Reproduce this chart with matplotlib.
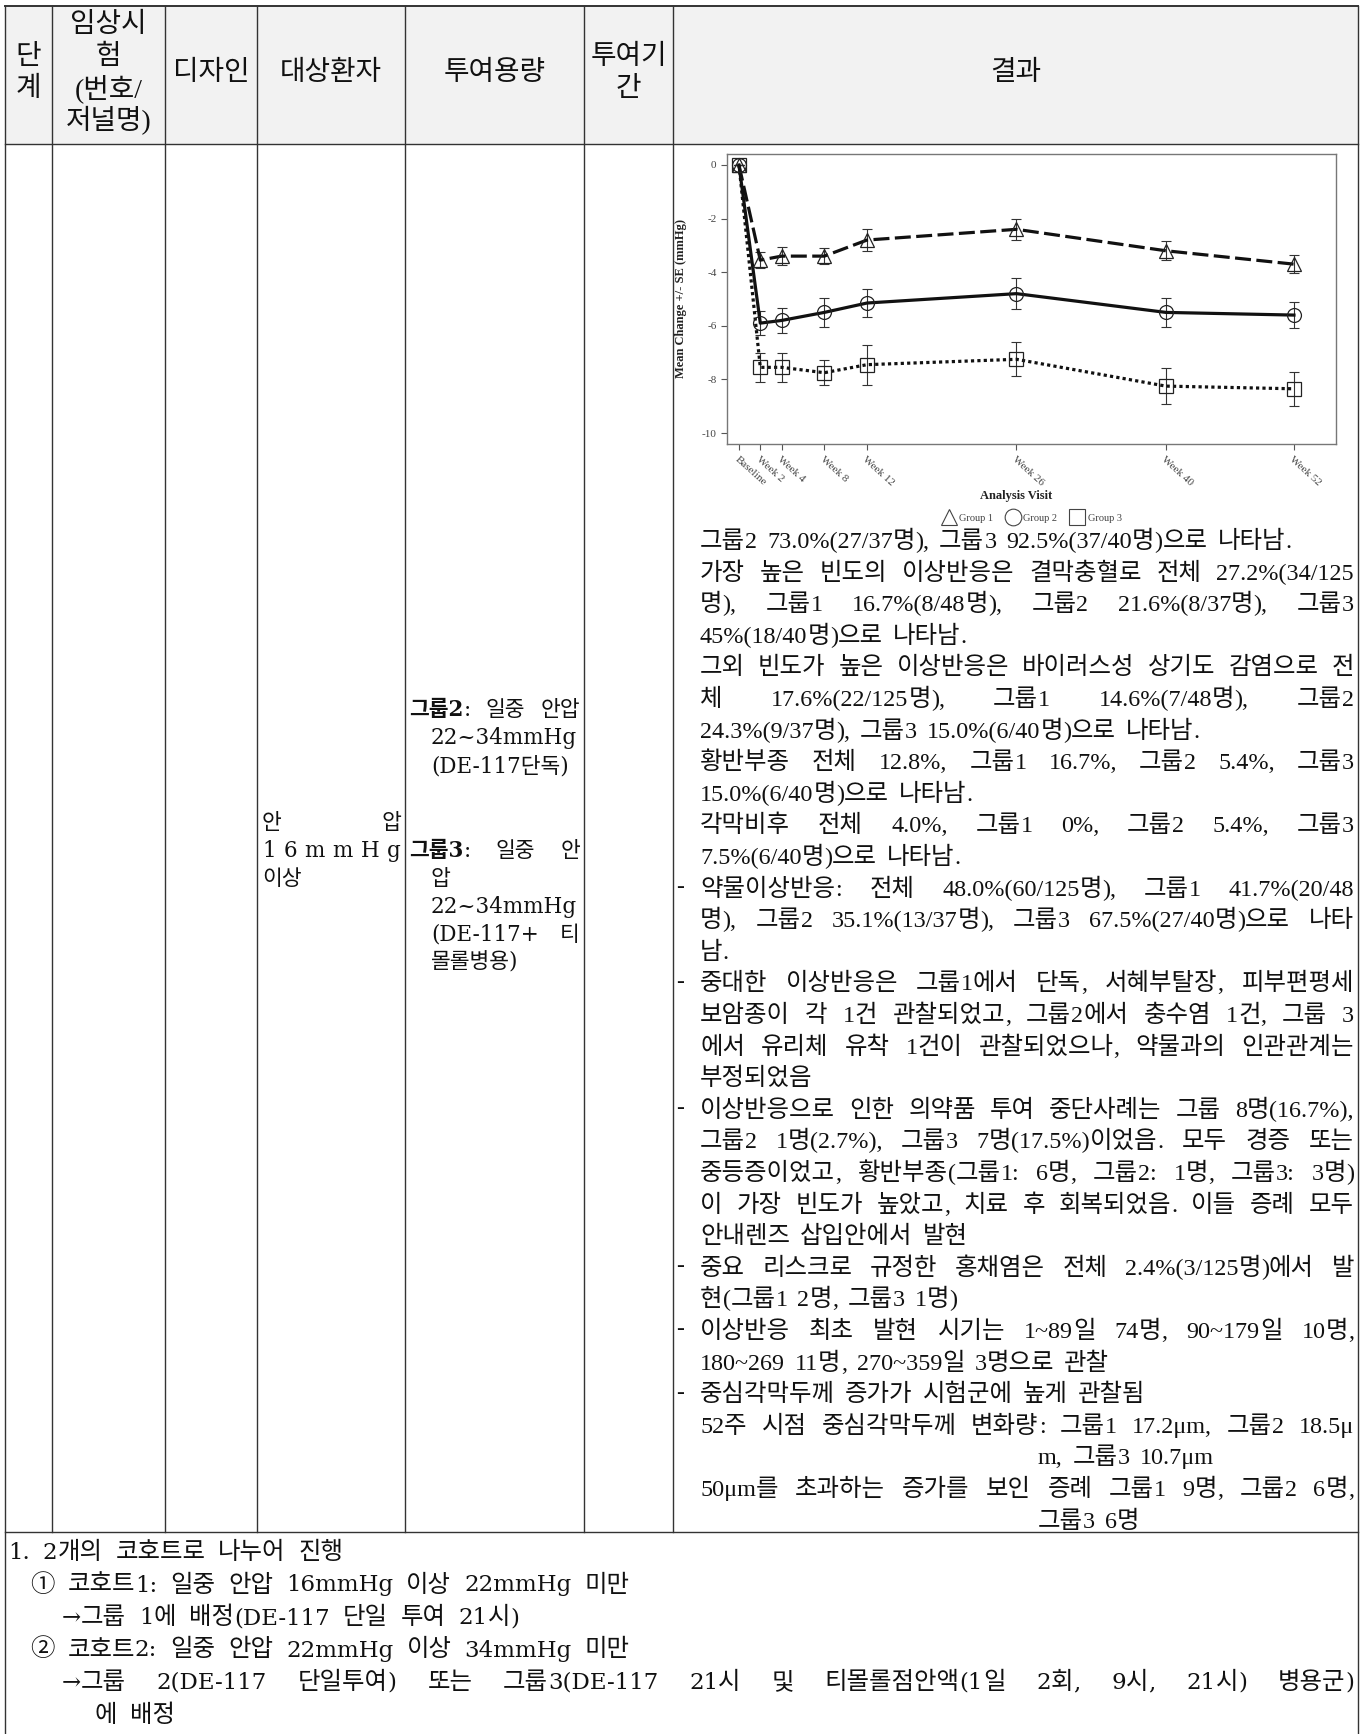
import re
import matplotlib
matplotlib.use('Agg')
import matplotlib.pyplot as plt
from matplotlib.lines import Line2D
from matplotlib.patches import Rectangle

plt.rcParams['axes.unicode_minus'] = False

W, H = 1362, 1734
KR = ['Liberation Serif', 'Noto Sans CJK KR']
KR_WIDE = ['DejaVu Serif', 'Noto Sans CJK KR']
CJK = 'Noto Sans CJK KR'
SERIF = 'Liberation Serif'
HANGUL = re.compile(r'([\u3131-\u318e\uac00-\ud7a3\u2460-\u2473]+)')

# --- IOP change chart data (mean change +/- SE, mmHg) ---
visits = ['Baseline', 'Week 2', 'Week 4', 'Week 8', 'Week 12', 'Week 26', 'Week 40', 'Week 52']
weeks = [0, 2, 4, 8, 12, 26, 40, 52]
g1_mean = [0, -3.55, -3.4, -3.4, -2.8, -2.4, -3.2, -3.7]
g1_se = [0, 0.3, 0.35, 0.3, 0.4, 0.4, 0.36, 0.33]
g2_mean = [0, -5.9, -5.8, -5.5, -5.15, -4.8, -5.5, -5.6]
g2_se = [0, 0.45, 0.45, 0.53, 0.54, 0.57, 0.53, 0.48]
g3_mean = [0, -7.55, -7.55, -7.75, -7.45, -7.25, -8.25, -8.35]
g3_se = [0, 0.54, 0.54, 0.46, 0.75, 0.63, 0.66, 0.63]
groups = ['Group 1', 'Group 2', 'Group 3']

# --- table text ---
col_x = [5, 52, 165, 257, 405, 584, 673, 1358]
headers = [['단', '계'], ['임상시', '험', '(번호/', '저널명)'], ['디자인'], ['대상환자'],
           ['투여용량'], ['투여기', '간'], ['결과']]

result_lines = [
    ('그룹2 73.0%(27/37명), 그룹3 92.5%(37/40명)으로 나타남.', False),
    ('가장 높은 빈도의 이상반응은 결막충혈로 전체 27.2%(34/125', True),
    ('명), 그룹1 16.7%(8/48명), 그룹2 21.6%(8/37명), 그룹3', True),
    ('45%(18/40명)으로 나타남.', False),
    ('그외 빈도가 높은 이상반응은 바이러스성 상기도 감염으로 전', True),
    ('체 17.6%(22/125명), 그룹1 14.6%(7/48명), 그룹2', True),
    ('24.3%(9/37명), 그룹3 15.0%(6/40명)으로 나타남.', False),
    ('황반부종 전체 12.8%, 그룹1 16.7%, 그룹2 5.4%, 그룹3', True),
    ('15.0%(6/40명)으로 나타남.', False),
    ('각막비후 전체 4.0%, 그룹1 0%, 그룹2 5.4%, 그룹3', True),
    ('7.5%(6/40명)으로 나타남.', False),
    ('- 약물이상반응: 전체 48.0%(60/125명), 그룹1 41.7%(20/48', True),
    ('명), 그룹2 35.1%(13/37명), 그룹3 67.5%(27/40명)으로 나타', True),
    ('남.', False),
    ('- 중대한 이상반응은 그룹1에서 단독, 서혜부탈장, 피부편평세', True),
    ('보암종이 각 1건 관찰되었고, 그룹2에서 충수염 1건, 그룹 3', True),
    ('에서 유리체 유착 1건이 관찰되었으나, 약물과의 인관관계는', True),
    ('부정되었음', False),
    ('- 이상반응으로 인한 의약품 투여 중단사례는 그룹 8명(16.7%),', True),
    ('그룹2 1명(2.7%), 그룹3 7명(17.5%)이었음. 모두 경증 또는', True),
    ('중등증이었고, 황반부종(그룹1: 6명, 그룹2: 1명, 그룹3: 3명)', True),
    ('이 가장 빈도가 높았고, 치료 후 회복되었음. 이들 증례 모두', True),
    ('안내렌즈 삽입안에서 발현', False),
    ('- 중요 리스크로 규정한 홍채염은 전체 2.4%(3/125명)에서 발', True),
    ('현(그룹1 2명, 그룹3 1명)', False),
    ('- 이상반응 최초 발현 시기는 1~89일 74명, 90~179일 10명,', True),
    ('180~269 11명, 270~359일 3명으로 관찰', False),
    ('- 중심각막두께 증가가 시험군에 높게 관찰됨', False),
    ('52주 시점 중심각막두께 변화량: 그룹1 17.2μm, 그룹2 18.5μ', True),
    ('>m, 그룹3 10.7μm', False),
    ('50μm를 초과하는 증가를 보인 증례 그룹1 9명, 그룹2 6명,', True),
    ('>그룹3 6명', False),
]

notes = [
    (8, '1. 2개의 코호트로 나누어 진행', False),
    (30, '① 코호트1: 일중 안압 16mmHg 이상 22mmHg 미만', False),
    (62, '→그룹 1에 배정(DE-117 단일 투여 21시)', False),
    (30, '② 코호트2: 일중 안압 22mmHg 이상 34mmHg 미만', False),
    (62, '→그룹 2(DE-117 단일투여) 또는 그룹3(DE-117 21시 및 티몰롤점안액(1일 2회, 9시, 21시) 병용군)', True),
    (95, '에 배정', False),
]

fig = plt.figure(figsize=(W / 100, H / 100), dpi=100)
pg = fig.add_axes([0, 0, 1, 1])
pg.set_xlim(0, W)
pg.set_ylim(H, 0)
pg.axis('off')
rend = fig.canvas.get_renderer()


def put(x, y, s, size=17, fam=KR, weight='normal', ha='left', va='center'):
    return pg.text(x, y, s, fontsize=size, family=fam, fontweight=weight,
                   ha=ha, va=va, color='#111')


def width(t):
    return t.get_window_extent(rend).width


def line(x0, y, words, x1=None, gap=10, size=15.5, fam=KR_WIDE):
    # single-family words; gaps stretched to x1 when given
    grp = []
    for w in words:
        segs = w if isinstance(w, list) else [(w, 'normal')]
        ts = [put(x0, y, s, size, fam, wt) for s, wt in segs]
        grp.append((ts, sum(width(t) for t in ts)))
    place(grp, x0, x1, gap)


def mixed(x0, y, s, x1=None, gap=10, ksize=17.6, lsize=17.4, lfam=SERIF):
    # hangul runs and latin runs set in their own fonts on a common baseline
    grp = []
    for w in s.split(' '):
        ts = []
        for p in HANGUL.split(w):
            if not p:
                continue
            if HANGUL.fullmatch(p):
                ts.append(put(x0, y + 8, p, ksize, CJK, va='baseline'))
            else:
                ts.append(put(x0, y + 8, p, lsize, lfam, va='baseline'))
        grp.append((ts, sum(width(t) for t in ts)))
    place(grp, x0, x1, gap)


def place(grp, x0, x1, gap):
    if x1 is not None and len(grp) > 1:
        gap = (x1 - x0 - sum(g[1] for g in grp)) / (len(grp) - 1)
    x = x0
    for ts, w in grp:
        xx = x
        for t in ts:
            t.set_x(xx)
            xx += width(t)
        x += w + gap


# header band and grid
pg.add_patch(Rectangle((col_x[0], 6), col_x[-1] - col_x[0], 138, fc='#f2f2f2', ec='none'))
lc = '#333'
for yy, lw in [(6, 1.4), (144, 1.0), (1532, 1.0)]:
    pg.plot([col_x[0], col_x[-1]], [yy, yy], color=lc, lw=lw)
for i, xx in enumerate(col_x):
    y1 = H if i in (0, len(col_x) - 1) else 1532
    pg.plot([xx, xx], [6, y1], color=lc, lw=1.0)

for i, txt in enumerate(headers):
    cx0 = (col_x[i] + col_x[i + 1]) / 2
    n = len(txt)
    for j, s in enumerate(txt):
        put(cx0, 73 + (j - (n - 1) / 2) * 32, s, size=20, ha='center')

# 대상환자 column
line(262, 823, ['안', '압'], x1=401)
line(262, 851, list('16mmHg'), x1=401)
line(262, 879, ['이상'])

# 투여용량 column
line(409, 710, [[('그룹2', 'bold'), (':', 'normal')], '일중', '안압'], x1=580)
line(431, 738, ['22~34mmHg'])
line(431, 766, ['(DE-117단독)'])
line(409, 851, [[('그룹3', 'bold'), (':', 'normal')], '일중', '안'], x1=580)
line(431, 879, ['압'])
line(431, 907, ['22~34mmHg'])
line(431, 935, ['(DE-117+', '티'], x1=580)
line(431, 963, ['몰롤병용)'])

# 결과 column text
for i, (s, just) in enumerate(result_lines):
    y = 540 + 31.6 * i
    x0 = 700
    if s.startswith('- '):
        put(676, y, '-')
        s = s[2:]
    elif s.startswith('>'):
        x0 = 1038
        s = s[1:]
    mixed(x0, y, s, x1=1354 if just else None)

# notes under the table
for i, (x0, s, just) in enumerate(notes):
    mixed(x0, 1551 + 32.5 * i, s, x1=1354 if just else None, gap=13,
          lsize=16.5, lfam='DejaVu Serif')

# --- chart ---
cx = fig.add_axes([727 / W, 1 - 444 / H, 609 / W, 290 / H])
cx.set_xlim(-1.12, 55.94)
cx.set_ylim(-10.41, 0.41)

series = [(g1_mean, g1_se, '^', (0, (5, 1.7)), 9.5),
          (g2_mean, g2_se, 'o', '-', 10),
          (g3_mean, g3_se, 's', (0, (1, 1)), 10.5)]
for mean, se, mk, ls, ms in series:
    cx.errorbar(weeks, mean, yerr=se, fmt='none', ecolor='#333', elinewidth=0.8,
                capsize=3.5, capthick=0.8, zorder=2)
    cx.plot(weeks, mean, color='#111', lw=2.3, ls=ls, zorder=3)
    cx.plot(weeks, mean, ls='none', marker=mk, ms=ms, mfc='none', mec='#222', mew=0.9, zorder=4)

for sp in cx.spines.values():
    sp.set_color('#777')
    sp.set_linewidth(1.0)
cx.tick_params(direction='out', length=4, width=0.8, color='#555', labelcolor='#444', labelsize=8)
cx.set_yticks([0, -2, -4, -6, -8, -10])
cx.set_xticks(weeks)
cx.set_xticklabels(visits, rotation=-42, ha='left', va='top', rotation_mode='anchor')
for lbl in cx.get_xticklabels() + cx.get_yticklabels():
    lbl.set_family(SERIF)
cx.set_ylabel('Mean Change +/- SE (mmHg)', fontsize=9, fontweight='bold', family=SERIF, color='#222')
cx.yaxis.set_label_coords(-0.066, 0.5)
fig.text(1016 / W, 1 - 496 / H, 'Analysis Visit', ha='center', va='center',
         fontsize=9, fontweight='bold', family=SERIF, color='#222')

handles = [Line2D([], [], ls='none', marker=m, ms=12, mfc='none', mec='#444', mew=0.8)
           for m in ['^', 'o', 's']]
fig.legend(handles, groups, loc='center', bbox_to_anchor=(1032 / W, 1 - 518 / H), ncol=3,
           frameon=False, prop={'family': SERIF, 'size': 7.5}, handletextpad=0.4,
           columnspacing=1.3, handlelength=1.2, labelcolor='#444')

fig.savefig('out.png', dpi=100)
